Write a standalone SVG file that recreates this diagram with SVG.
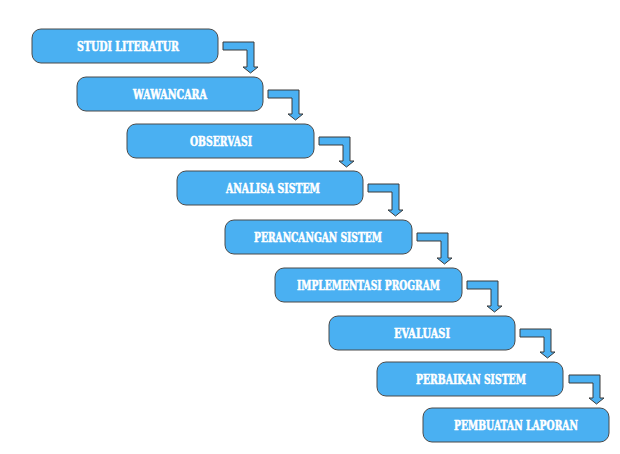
<svg xmlns="http://www.w3.org/2000/svg" width="620" height="454" viewBox="0 0 620 454">
<style>
.box{fill:#4AB0F2;stroke:#4a4a4a;stroke-width:1}
.arr{fill:#4AB0F2;stroke:#3a3a3a;stroke-width:1;stroke-linejoin:miter}
.lbl{fill:#ffffff;stroke:#ffffff;stroke-width:0.5;font-family:'DejaVu Serif','Liberation Serif',serif;font-weight:bold;font-size:12px;text-anchor:middle}
</style>
<rect width="620" height="454" fill="#ffffff"/>
<g id="connectors">
<path class="arr" d="M223,42 H254 V67 H258 L250.5,73 L243,67 H247 V50 H223 Z"/>
<path class="arr" d="M268,90 H299 V114 H303 L295.5,120 L288,114 H292 V98 H268 Z"/>
<path class="arr" d="M319,137 H350 V161 H354 L346.5,167 L339,161 H343 V145 H319 Z"/>
<path class="arr" d="M368,184 H399 V210 H403 L395.5,216 L388,210 H392 V192 H368 Z"/>
<path class="arr" d="M417,233 H448 V258 H452 L444.5,264 L437,258 H441 V241 H417 Z"/>
<path class="arr" d="M467,281 H498 V306 H502 L494.5,312 L487,306 H491 V289 H467 Z"/>
<path class="arr" d="M520,329 H551 V352 H555 L547.5,358 L540,352 H544 V337 H520 Z"/>
<path class="arr" d="M569,375 H600 V398 H604 L596.5,404 L589,398 H593 V383 H569 Z"/>
</g>
<g id="n1"><rect class="box" x="32" y="29" width="186" height="34" rx="9"/><text class="lbl" x="128" y="50.5" textLength="102" lengthAdjust="spacingAndGlyphs">STUDI LITERATUR</text></g>
<g id="n2"><rect class="box" x="77" y="77" width="186" height="34" rx="9"/><text class="lbl" x="170" y="98.5" textLength="74" lengthAdjust="spacingAndGlyphs">WAWANCARA</text></g>
<g id="n3"><rect class="box" x="127" y="124" width="187" height="34" rx="9"/><text class="lbl" x="221" y="145.5" textLength="62" lengthAdjust="spacingAndGlyphs">OBSERVASI</text></g>
<g id="n4"><rect class="box" x="177" y="171" width="186" height="34" rx="9"/><text class="lbl" x="273" y="192.5" textLength="94" lengthAdjust="spacingAndGlyphs">ANALISA SISTEM</text></g>
<g id="n5"><rect class="box" x="225" y="220" width="187" height="34" rx="9"/><text class="lbl" x="318" y="241.5" textLength="128" lengthAdjust="spacingAndGlyphs">PERANCANGAN SISTEM</text></g>
<g id="n6"><rect class="box" x="275" y="268" width="187" height="34" rx="9"/><text class="lbl" x="368.5" y="289.5" textLength="143" lengthAdjust="spacingAndGlyphs">IMPLEMENTASI PROGRAM</text></g>
<g id="n7"><rect class="box" x="329" y="316" width="186" height="34" rx="9"/><text class="lbl" x="422" y="337.5" textLength="56" lengthAdjust="spacingAndGlyphs">EVALUASI</text></g>
<g id="n8"><rect class="box" x="377" y="362" width="186" height="34" rx="9"/><text class="lbl" x="471" y="383.5" textLength="110" lengthAdjust="spacingAndGlyphs">PERBAIKAN SISTEM</text></g>
<g id="n9"><rect class="box" x="423" y="408" width="186" height="34" rx="9"/><text class="lbl" x="516" y="429.5" textLength="124" lengthAdjust="spacingAndGlyphs">PEMBUATAN LAPORAN</text></g>
</svg>
